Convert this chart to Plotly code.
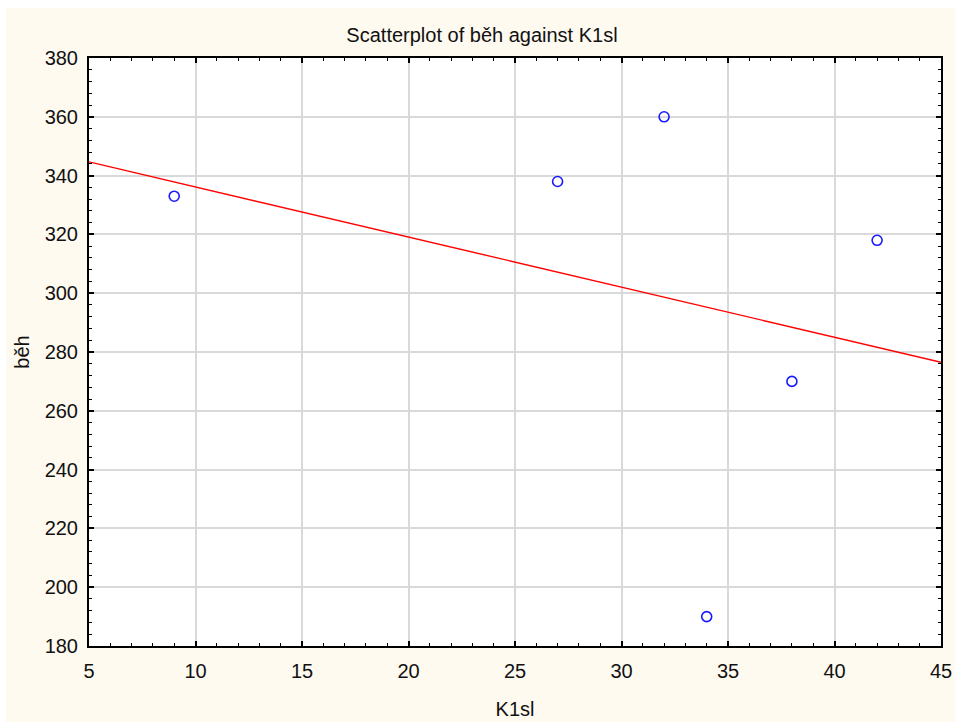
import numpy as np
import plotly.graph_objects as go

# Data
k1sl = [9, 27, 32, 34, 38, 42]
beh = [333, 338, 360, 190, 270, 318]

x_range = [5, 45]
y_range = [180, 380]

# Linear regression through the data
slope, intercept = np.polyfit(k1sl, beh, 1)
line_x = np.array(x_range, dtype=float)
line_y = slope * line_x + intercept

W, H = 955, 722
ML, MR, MT, MB = 89, 14, 58, 76
PW = W - ML - MR
PH = H - MT - MB

fig = go.Figure()
fig.add_trace(go.Scatter(
    x=line_x, y=line_y, mode="lines",
    line=dict(color="#FF0000", width=1.4),
    hoverinfo="skip", showlegend=False,
))
fig.add_trace(go.Scatter(
    x=k1sl, y=beh, mode="markers",
    marker=dict(symbol="circle-open", size=10, color="#1A1AFF",
                line=dict(width=1.6, color="#1A1AFF")),
    showlegend=False,
))

font_family = "Liberation Sans, Arial, sans-serif"
FS = 20

axis_common = dict(
    showline=True, linecolor="black", linewidth=2, mirror="allticks",
    ticks="inside", ticklen=5, tickwidth=1.5, tickcolor="black",
    showgrid=True, gridcolor="#D9D9D9", gridwidth=1.5,
    zeroline=False, automargin=False,
    tickfont=dict(family=font_family, size=FS, color="#111111"),
)

fig.update_xaxes(
    range=x_range, dtick=5, tick0=5,
    minor=dict(dtick=1, ticks="inside", ticklen=3, tickwidth=1.3,
               tickcolor="black", showgrid=False),
    ticklabelstandoff=6,
    title=dict(text="K1sl", font=dict(family=font_family, size=FS, color="#111111"),
               standoff=21),
    **axis_common,
)
fig.update_yaxes(
    range=y_range, dtick=20, tick0=180,
    minor=dict(dtick=4, ticks="inside", ticklen=3, tickwidth=1.3,
               tickcolor="black", showgrid=False),
    ticklabelstandoff=5,
    title=dict(text="běh", font=dict(family=font_family, size=FS, color="#111111"),
               standoff=10),
    **axis_common,
)

# white strips at the top and left edges of the cream canvas
fig.add_shape(type="rect", xref="paper", yref="paper",
              x0=-ML / PW - 0.01, x1=-(ML - 6) / PW,
              y0=-MB / PH - 0.01, y1=1 + MT / PH + 0.01,
              fillcolor="white", line=dict(width=0), layer="below")
fig.add_shape(type="rect", xref="paper", yref="paper",
              x0=-ML / PW - 0.01, x1=1 + MR / PW + 0.01,
              y0=1 + (MT - 8) / PH, y1=1 + MT / PH + 0.01,
              fillcolor="white", line=dict(width=0), layer="below")

fig.update_layout(
    width=W, height=H,
    margin=dict(l=ML, r=MR, t=MT, b=MB),
    paper_bgcolor="#FFFAF0",
    plot_bgcolor="white",
    title=dict(text="Scatterplot of běh against K1sl",
               font=dict(family=font_family, size=FS, color="#111111"),
               x=482 / W, xanchor="center", xref="container",
               y=1 - 35 / H, yanchor="middle", yref="container"),
    font=dict(family=font_family),
)

fig.write_html("out.html")
